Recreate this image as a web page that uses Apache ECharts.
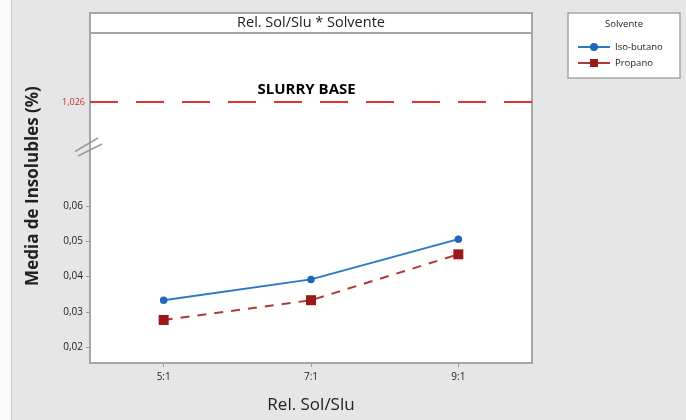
<!DOCTYPE html>
<html>
<head>
<meta charset="utf-8">
<script src="https://cdn.jsdelivr.net/npm/echarts@6/dist/echarts.min.js"></script>
<style>
html,body{margin:0;padding:0;background:#e6e6e6;}
#chart{width:686px;height:420px;}
</style>
</head>
<body>
<div id="chart"></div>
<script>
// ---- data ----
const categories = ['5:1', '7:1', '9:1'];
const isoButano = [0.0333, 0.0392, 0.0506];
const propano = [0.0277, 0.0333, 0.0463];
const yTicks = [0.02, 0.03, 0.04, 0.05, 0.06];
const slurryBase = 1.026;
const slurryLabel = 'SLURRY BASE';
const seriesNames = ['Iso-butano', 'Propano'];
const legendTitle = 'Solvente';
const panelTitle = 'Rel. Sol/Slu * Solvente';
const xName = 'Rel. Sol/Slu';
const yName = 'Media de Insolubles (%)';

const FONT = '"Open Sans", "Noto Sans", sans-serif';
const fmt = v => String(v).replace('.', ',');

// reference line spans the whole panel width (0..1 on a helper axis)
const refLine = [[0, slurryBase], [1, slurryBase]];
const refLabelPoint = [[0.49, slurryBase]];

const chart = echarts.init(document.getElementById('chart'), null, {renderer: 'canvas'});
chart.setOption({
  backgroundColor: '#e6e6e6',
  animation: false,
  textStyle: {fontFamily: FONT},
  grid: [
    {left: 90, right: 154, top: 152, bottom: 57},
    {left: 90, right: 154, top: 33, height: 115}
  ],
  xAxis: [
    {
      type: 'category', gridIndex: 0, data: categories, boundaryGap: true,
      axisLine: {show: false},
      axisTick: {show: true, alignWithLabel: true, length: 4, lineStyle: {color: '#999'}},
      axisLabel: {color: '#222', fontSize: 10, margin: 9, fontFamily: FONT},
      name: xName, nameLocation: 'middle', nameGap: 34,
      nameTextStyle: {color: '#222', fontSize: 17, fontFamily: FONT}
    },
    {
      type: 'value', gridIndex: 1, min: 0, max: 1, show: false
    }
  ],
  yAxis: [
    {
      type: 'value', gridIndex: 0, min: 0.0155, max: 0.0753,
      axisLine: {show: false},
      splitLine: {show: false},
      axisTick: {show: true, customValues: yTicks, length: 4, lineStyle: {color: '#999'}},
      axisLabel: {show: true, customValues: yTicks, color: '#222', fontSize: 10, margin: 7,
        fontFamily: FONT, formatter: v => v.toFixed(2).replace('.', ',')}
    },
    {
      type: 'value', gridIndex: 1, min: 1.0, max: 1.065,
      axisLine: {show: false},
      splitLine: {show: false},
      axisTick: {show: false},
      axisLabel: {show: true, customValues: [slurryBase], color: '#c03030', fontSize: 9,
        margin: 5, fontFamily: FONT, formatter: v => fmt(v)}
    }
  ],
  legend: {
    orient: 'vertical', left: 572, top: 37, itemWidth: 32, itemHeight: 10, itemGap: 6,
    textStyle: {fontSize: 9.5, color: '#222', fontFamily: FONT},
    data: [
      {name: seriesNames[0]},
      {name: seriesNames[1], lineStyle: {type: 'solid'}}
    ]
  },
  series: [
    {
      name: seriesNames[0], type: 'line', xAxisIndex: 0, yAxisIndex: 0, data: isoButano,
      symbol: 'circle', symbolSize: 7.5, z: 5,
      itemStyle: {color: '#1f68b8'},
      lineStyle: {color: '#2a78c8', width: 2}
    },
    {
      name: seriesNames[1], type: 'line', xAxisIndex: 0, yAxisIndex: 0, data: propano,
      symbol: 'rect', symbolSize: 10, z: 4,
      itemStyle: {color: '#9b1818'},
      lineStyle: {color: '#b03838', width: 2, type: [9, 8]}
    },
    {
      name: 'ref', type: 'line', xAxisIndex: 1, yAxisIndex: 1, data: refLine,
      showSymbol: false, symbol: 'none', silent: true, z: 3,
      lineStyle: {color: '#e03434', width: 2, type: [28, 18]}
    },
    {
      name: 'refLabel', type: 'scatter', xAxisIndex: 1, yAxisIndex: 1, data: refLabelPoint,
      symbol: 'circle', symbolSize: 2, silent: true, z: 6,
      itemStyle: {color: 'rgba(255,255,255,0)', opacity: 1},
      label: {show: true, position: 'top', formatter: slurryLabel, color: '#000',
        fontWeight: 'bold', fontSize: 15, distance: 4, fontFamily: FONT}
    }
  ],
  graphic: [
    {type: 'rect', z: -10, shape: {x: 0, y: 0, width: 11, height: 420}, style: {fill: '#fafafa'}, silent: true},
    {type: 'line', z: -10, shape: {x1: 11.5, y1: 0, x2: 11.5, y2: 420}, style: {stroke: '#c8c8c8', lineWidth: 1}, silent: true},
    // plot frame
    {type: 'rect', z: -5, shape: {x: 90, y: 33, width: 442, height: 330}, style: {fill: '#ffffff', stroke: '#a6a6a6', lineWidth: 2}, silent: true},
    // panel header
    {type: 'rect', z: -5, shape: {x: 90, y: 13, width: 442, height: 20}, style: {fill: '#ffffff', stroke: '#a6a6a6', lineWidth: 2}, silent: true},
    {type: 'text', z: 10, x: 311, y: 23, style: {text: panelTitle, fill: '#222', fontSize: 14.5, fontFamily: FONT, align: 'center', verticalAlign: 'middle'}, silent: true},
    // y axis name
    {type: 'text', z: 10, x: 33, y: 186, rotation: Math.PI / 2, style: {text: yName, fill: '#222', fontSize: 17, fontWeight: 'bold', fontFamily: FONT, align: 'center', verticalAlign: 'middle'}, silent: true},
    // break marks
    {type: 'line', z: 10, shape: {x1: 75, y1: 151.5, x2: 98, y2: 138}, style: {stroke: '#9a9a9a', lineWidth: 1.5}, silent: true},
    {type: 'line', z: 10, shape: {x1: 78, y1: 156, x2: 102, y2: 144}, style: {stroke: '#9a9a9a', lineWidth: 1.5}, silent: true},
    // legend box
    {type: 'rect', z: -5, shape: {x: 568, y: 13, width: 112, height: 65}, style: {fill: '#ffffff', stroke: '#a6a6a6', lineWidth: 1.5}, silent: true},
    {type: 'text', z: 10, x: 624, y: 24, style: {text: legendTitle, fill: '#222', fontSize: 9.5, fontFamily: FONT, align: 'center', verticalAlign: 'middle'}, silent: true}
  ]
});
</script>
</body>
</html>
